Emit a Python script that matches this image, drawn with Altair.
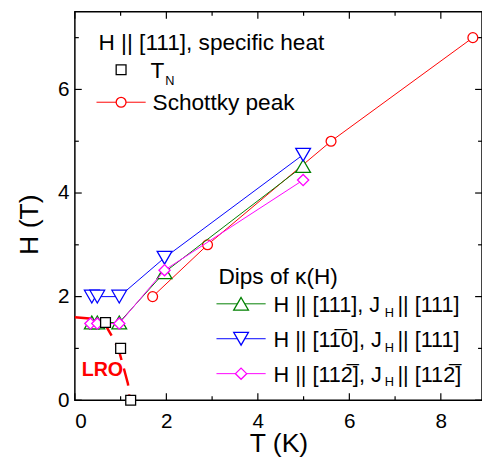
import altair as alt
import pandas as pd

# ---- data ----
tn_T = [0.67, 1.0, 1.22]
tn_H = [1.5, 1.0, 0.0]
sch_T = [1.7, 2.9, 5.6, 8.7]
sch_H = [2.0, 3.0, 5.0, 7.0]
a_T = [0.37, 0.49, 0.97, 1.96, 4.99]
a_H = [1.5, 1.5, 1.5, 2.47, 4.52]
b_T = [0.37, 0.49, 0.97, 1.96, 4.99]
b_H = [2.0, 2.0, 2.0, 2.75, 4.74]
c_T = [0.34, 0.49, 0.97, 1.96, 4.99]
c_H = [1.48, 1.48, 1.48, 2.51, 4.25]
lro_T = [0.0, 0.4, 0.67, 0.8, 0.95, 1.05, 1.16, 1.2]
lro_H = [1.6, 1.57, 1.45, 1.25, 1.0, 0.68, 0.32, 0.0]
x_major = [0, 2, 4, 6, 8]
x_minor = [1, 3, 5, 7]
y_major = [0, 2, 4, 6]
y_minor = [1, 3, 5, 7]

W, H = 414, 395
XMAX, YMAX = 8.9, 7.5
FONT = "Liberation Sans"
xs = alt.Scale(domain=[0, XMAX], nice=False, zero=False)
ys = alt.Scale(domain=[0, YMAX], nice=False, zero=False)
PX_X = XMAX / W   # data units per pixel
PX_Y = YMAX / H


def df(t, h):
    return pd.DataFrame({"T": t, "H": h})


def series(t, h, color, shape, size, line=True):
    d = df(t, h)
    enc = dict(x=alt.X("T:Q", scale=xs), y=alt.Y("H:Q", scale=ys))
    layers = []
    if line:
        layers.append(alt.Chart(d).mark_line(color=color, strokeWidth=1).encode(**enc))
    layers.append(alt.Chart(d).mark_point(shape=shape, size=size, fill="white", filled=True,
                                          stroke=color, strokeWidth=1.3, opacity=1).encode(**enc))
    return layers


one = pd.DataFrame({"a": [0]})

base_axes = alt.Chart(df([0], [0])).mark_point(opacity=0).encode(
    x=alt.X("T:Q", scale=xs, title="T (K)",
            axis=alt.Axis(values=x_major, ticks=False, tickSize=0, domain=False, grid=False,
                          labelPadding=11, labelFontSize=21, titleFontSize=27,
                          titleFont=FONT, labelFont=FONT, titleFontWeight="normal",
                          titleY=52, titleBaseline="alphabetic", labelColor="black", titleColor="black")),
    y=alt.Y("H:Q", scale=ys, title="H (T)",
            axis=alt.Axis(values=y_major, ticks=False, tickSize=0, domain=False, grid=False,
                          labelPadding=6, labelFontSize=21, titleFontSize=27,
                          titleFont=FONT, labelFont=FONT, titleFontWeight="normal",
                          titleX=-32, titleY=216, labelColor="black", titleColor="black")),
)

ticks = []
for vals, L in ((x_major, 7), (x_minor, 4)):
    d = pd.DataFrame({"v": vals, "b0": 0.0, "b1": L * PX_Y, "t0": YMAX, "t1": YMAX - L * PX_Y})
    ticks.append(alt.Chart(d).mark_rule(color="black", strokeWidth=1.2).encode(
        x=alt.X("v:Q", scale=xs), y=alt.Y("b0:Q", scale=ys), y2="b1:Q"))
    ticks.append(alt.Chart(d).mark_rule(color="black", strokeWidth=1.2).encode(
        x=alt.X("v:Q", scale=xs), y=alt.Y("t0:Q", scale=ys), y2="t1:Q"))
for vals, L in ((y_major, 7), (y_minor, 4)):
    d = pd.DataFrame({"v": vals, "l0": 0.0, "l1": L * PX_X, "r0": XMAX, "r1": XMAX - L * PX_X})
    ticks.append(alt.Chart(d).mark_rule(color="black", strokeWidth=1.2).encode(
        y=alt.Y("v:Q", scale=ys), x=alt.X("l0:Q", scale=xs), x2="l1:Q"))
    ticks.append(alt.Chart(d).mark_rule(color="black", strokeWidth=1.2).encode(
        y=alt.Y("v:Q", scale=ys), x=alt.X("r0:Q", scale=xs), x2="r1:Q"))

lro_line = alt.Chart(df(lro_T, lro_H)).mark_line(color="#ff0000", strokeWidth=2.5,
                                                  strokeDash=[18, 9]).encode(
    x=alt.X("T:Q", scale=xs), y=alt.Y("H:Q", scale=ys))

layers = [base_axes] + ticks + [lro_line]
layers += series(sch_T, sch_H, "#ff0000", "circle", 100)
layers += series(a_T, a_H, "#008000", "triangle-up", 225)
layers += series(b_T, b_H, "#0000ff", "triangle-down", 225)
layers += series(c_T, c_H, "#ff00ff", "diamond", 130)
layers += series(tn_T, tn_H, "black", "square", 100, line=False)


def txt(s, x, y, size=23, color="black", weight="normal", align="left", baseline="alphabetic"):
    return alt.Chart(one).mark_text(text=s, fontSize=size, font=FONT, color=color,
                                    fontWeight=weight, align=align, baseline=baseline).encode(
        x=alt.value(x), y=alt.value(y))


def pt(x, y, color, shape, size):
    return alt.Chart(one).mark_point(shape=shape, size=size, fill="white", filled=True,
                                     stroke=color, strokeWidth=1.3, opacity=1).encode(
        x=alt.value(x), y=alt.value(y))


def seg(x1, x2, y, color):
    return alt.Chart(one).mark_rule(color=color, strokeWidth=1).encode(
        x=alt.value(x1), x2=alt.value(x2), y=alt.value(y))


# legend 1
layers += [
    txt("H || [111], specific heat", 24, 39),
    pt(47, 59, "black", "square", 100),
    txt("T", 77, 67),
    txt("N", 92, 74, size=13),
    seg(22, 72, 92, "#ff0000"),
    pt(47, 92, "#ff0000", "circle", 100),
    txt("Schottky peak", 79, 100),
]

# legend 2
layers.append(txt("Dips of \u03ba(H)", 146, 277))
entries = [
    ("#008000", "triangle-up", 225, "H || [111], J", "|| [111]"),
    ("#0000ff", "triangle-down", 225, "H || [11\u03050], J", "|| [111]"),
    ("#ff00ff", "diamond", 130, "H || [112\u0305], J", "|| [112\u0305]"),
]
for i, (col, shp, sz, a, b) in enumerate(entries):
    yl = 297 + i * 35.5
    layers += [
        seg(144, 194, yl, col),
        pt(169, yl, col, shp, sz),
        txt(a, 202, yl + 8, size=22),
        txt("H", 315, yl + 13, size=13),
        txt(b, 328, yl + 8, size=22),
    ]

layers.append(txt("LRO", 28, 364, size=20, color="#ff0000", weight="bold", align="center",
                  baseline="middle"))

chart = alt.layer(*layers).properties(
    width=W, height=H,
    autosize=alt.AutoSizeParams(type="none"),
    padding={"left": 68, "top": 0, "right": 0, "bottom": 57},
    background="white",
).configure_view(stroke="black", strokeWidth=1.5)

chart.save("out.html", embed_options={"renderer": "svg", "actions": False})
